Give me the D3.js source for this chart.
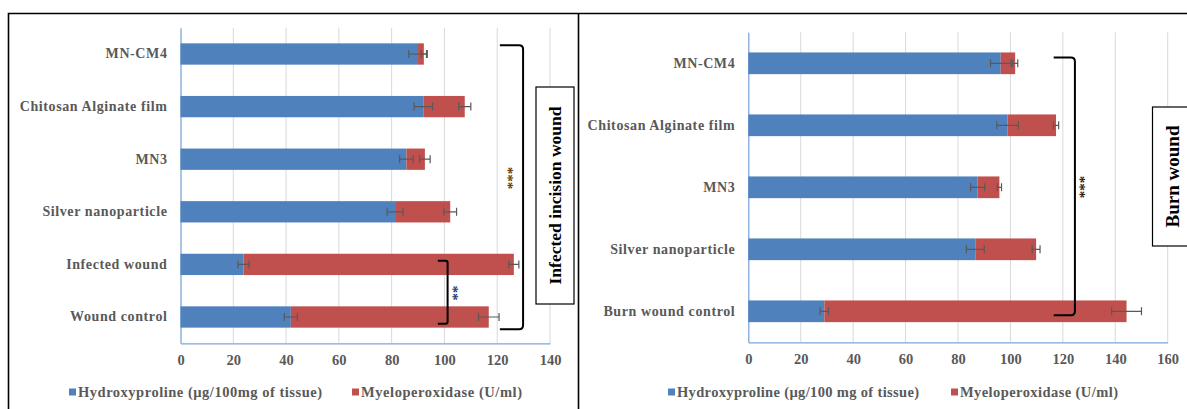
<!DOCTYPE html>
<html>
<head>
<meta charset="utf-8">
<script src="https://cdn.jsdelivr.net/npm/d3@7/dist/d3.min.js"></script>
<style>
  html, body { margin: 0; padding: 0; background: #ffffff; }
  svg text { font-family: "Liberation Serif", "Times New Roman", serif; }
</style>
</head>
<body>
<svg id="chart" width="1187" height="409"></svg>
<script>
// Infected incision wound panel
const leftCategories = ["MN-CM4", "Chitosan Alginate film", "MN3", "Silver nanoparticle", "Infected wound", "Wound control"];
const leftHydroxyproline = [90, 92, 85.6, 81.3, 23.9, 41.8];
const leftHydroxyprolineErr = [3.5, 3.5, 2.6, 3.0, 2.1, 2.5];
const leftMyeloperoxidase = [2.2, 15.7, 7.0, 20.9, 102.4, 75.0];
const leftMyeloperoxidaseErr = [1.0, 2.3, 2.0, 2.4, 1.9, 3.9];
const leftTicks = [0, 20, 40, 60, 80, 100, 120, 140];

// Burn wound panel
const rightCategories = ["MN-CM4", "Chitosan Alginate film", "MN3", "Silver nanoparticle", "Burn wound control"];
const rightHydroxyproline = [96.3, 98.9, 87.5, 86.6, 29.0];
const rightHydroxyprolineErr = [3.9, 4.1, 2.7, 3.4, 1.6];
const rightMyeloperoxidase = [5.5, 18.5, 8.3, 23.2, 115.3];
const rightMyeloperoxidaseErr = [1.0, 1.0, 0.8, 1.5, 5.7];
const rightTicks = [0, 20, 40, 60, 80, 100, 120, 140, 160];

const leftLegend = ["Hydroxyproline (µg/100mg of tissue)", "Myeloperoxidase (U/ml)"];
const rightLegend = ["Hydroxyproline (µg/100 mg of tissue)", "Myeloperoxidase (U/ml)"];

const BLUE = "#4f81bd";
const RED = "#c0504d";
const GREY_TEXT = "#595959";

const svg = d3.select("#chart");

// panel frames
svg.append("path")
  .attr("d", "M8.5,420 L8.5,13.5 L1187,13.5 M578.5,13.5 L578.5,420")
  .attr("fill", "none").attr("stroke", "#000").attr("stroke-width", 1.6);

function drawPanel(opt) {
  const g = svg.append("g");
  const x = d3.scaleLinear().domain([0, opt.max]).range([opt.x0, opt.x1]);
  const y = d3.scaleBand().domain(opt.categories)
    .range([opt.yTop, opt.yBottom])
    .paddingInner(opt.pad).paddingOuter(opt.pad / 2);

  // vertical gridlines
  g.append("g").selectAll("line").data(opt.ticks.slice(1)).join("line")
    .attr("x1", d => x(d)).attr("x2", d => x(d))
    .attr("y1", opt.yTop).attr("y2", opt.yBottom)
    .attr("stroke", "#d9d9d9").attr("stroke-width", 1);

  // x axis
  const xAxis = d3.axisBottom(x).tickValues(opt.ticks).tickSize(0).tickPadding(11);
  const ax = g.append("g").attr("transform", `translate(0,${opt.yBottom})`).call(xAxis);
  ax.select(".domain").attr("stroke", "#7ea6d8").attr("stroke-width", 1.3);
  ax.selectAll("text").attr("fill", GREY_TEXT).attr("font-size", 14.5)
    .attr("font-weight", "bold").attr("font-family", "Liberation Serif, serif");

  // y axis
  const yAxis = d3.axisLeft(y).tickSize(0).tickPadding(13);
  const ay = g.append("g").attr("transform", `translate(${opt.x0},0)`).call(yAxis);
  ay.select(".domain").attr("stroke", "#7ea6d8").attr("stroke-width", 1.3);
  ay.selectAll("text").attr("fill", GREY_TEXT).attr("font-size", 14)
    .attr("letter-spacing", "0.6px")
    .attr("font-weight", "bold").attr("font-family", "Liberation Serif, serif");

  const rows = opt.categories.map((c, i) => ({
    c, h: opt.hyd[i], he: opt.hydErr[i], m: opt.mpo[i], me: opt.mpoErr[i]
  }));

  // stacked bars
  g.append("g").selectAll("rect").data(rows).join("rect")
    .attr("x", x(0)).attr("y", d => y(d.c))
    .attr("width", d => x(d.h) - x(0)).attr("height", y.bandwidth())
    .attr("fill", BLUE);
  g.append("g").selectAll("rect").data(rows).join("rect")
    .attr("x", d => x(d.h)).attr("y", d => y(d.c))
    .attr("width", d => x(d.h + d.m) - x(d.h)).attr("height", y.bandwidth())
    .attr("fill", RED);

  // error bars
  const errs = [];
  rows.forEach(d => {
    errs.push({ c: d.c, v: d.h, e: d.he });
    errs.push({ c: d.c, v: d.h + d.m, e: d.me });
  });
  const eg = g.append("g").attr("stroke", "#595959").attr("stroke-width", 1.2).attr("fill", "none");
  errs.forEach(d => {
    const cy = y(d.c) + y.bandwidth() / 2;
    const a = x(d.v - d.e), b = x(d.v + d.e);
    eg.append("path").attr("d",
      `M${a},${cy} L${b},${cy} M${a},${cy - 4} L${a},${cy + 4} M${b},${cy - 4} L${b},${cy + 4}`);
  });

  // legend
  const lg = g.append("g");
  opt.legend.forEach((t, i) => {
    lg.append("rect").attr("x", opt.legendX[i]).attr("y", opt.legendY - 8.5)
      .attr("width", 7).attr("height", 7).attr("fill", i === 0 ? BLUE : RED);
    lg.append("text").attr("x", opt.legendX[i] + 9).attr("y", opt.legendY)
      .attr("fill", GREY_TEXT).attr("font-size", 14.5).attr("font-weight", "bold")
      .attr("textLength", opt.legendW[i]).attr("lengthAdjust", "spacing")
      .text(t);
  });

  return { g, x, y };
}

const L = drawPanel({
  categories: leftCategories, hyd: leftHydroxyproline, hydErr: leftHydroxyprolineErr,
  mpo: leftMyeloperoxidase, mpoErr: leftMyeloperoxidaseErr, ticks: leftTicks, max: 140,
  x0: 180.5, x1: 550, yTop: 27.7, yBottom: 343.3, pad: 0.595,
  legend: leftLegend, legendX: [69, 352], legendW: [244, 161], legendY: 397
});

const R = drawPanel({
  categories: rightCategories, hyd: rightHydroxyproline, hydErr: rightHydroxyprolineErr,
  mpo: rightMyeloperoxidase, mpoErr: rightMyeloperoxidaseErr, ticks: rightTicks, max: 160,
  x0: 748.3, x1: 1167.7, yTop: 32.3, yBottom: 342.3, pad: 0.65,
  legend: rightLegend, legendX: [668, 951], legendW: [242, 158], legendY: 397
});

// significance brackets
function bracket(g, xTip, xLine, yA, yB, r) {
  g.append("path")
    .attr("d", `M${xTip},${yA} L${xLine - r},${yA} Q${xLine},${yA} ${xLine},${yA + r} ` +
               `L${xLine},${yB - r} Q${xLine},${yB} ${xLine - r},${yB} L${xTip},${yB}`)
    .attr("fill", "none").attr("stroke", "#000").attr("stroke-width", 2);
}
function stars(g, cx, cy, t, color) {
  g.append("text").attr("transform", `translate(${cx},${cy}) rotate(90)`)
    .attr("text-anchor", "middle").attr("dy", "0.7em")
    .attr("font-size", 15).attr("font-weight", "bold").attr("fill", color).text(t);
}

const lb = L.y.bandwidth();
bracket(L.g, L.x(121), L.x(129.8), L.y("MN-CM4") + 2, L.y("Wound control") + lb + 1.5, 4);
bracket(L.g, L.x(97.5), L.x(101.2), L.y("Infected wound") + 7, L.y("Wound control") + lb - 4, 2);
stars(L.g, L.x(126.3), 178, "***", "#5c3b0a");
stars(L.g, L.x(105.3), 293, "**", "#1f3864");

const rb = R.y.bandwidth();
bracket(R.g, R.x(116.5), R.x(124.6), R.y("MN-CM4") + 5, R.y("Burn wound control") + rb / 2 + 4, 4);
stars(R.g, R.x(128.8), 187, "***", "#1a1a1a");

// panel titles in boxes
function titleBox(x0, y0, w, h, t, size) {
  svg.append("rect").attr("x", x0).attr("y", y0).attr("width", w).attr("height", h)
    .attr("fill", "#fff").attr("stroke", "#000").attr("stroke-width", 1.2);
  svg.append("text").attr("transform", `translate(${x0 + w / 2},${y0 + h / 2}) rotate(-90)`)
    .attr("text-anchor", "middle").attr("dy", "0.35em")
    .attr("font-size", size).attr("font-weight", "bold").attr("fill", "#000").text(t);
}
titleBox(536, 87, 38, 217, "Infected incision wound", 17.5);
titleBox(1152.5, 107, 40, 139, "Burn wound", 19);
</script>
</body>
</html>
